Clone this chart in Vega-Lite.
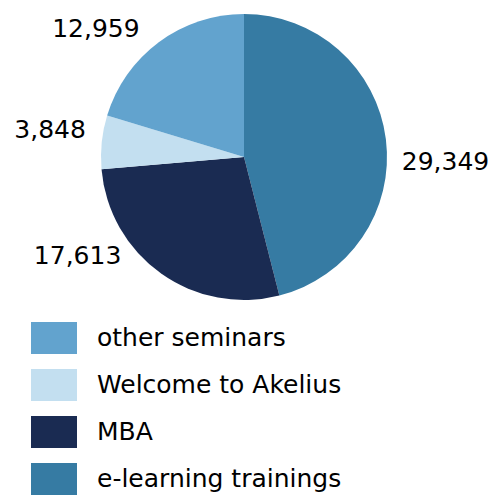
{
  "$schema": "https://vega.github.io/schema/vega-lite/v6.json",
  "width": 488,
  "height": 314,
  "autosize": {"type": "none"},
  "padding": {"left": 0, "top": 0, "right": 8, "bottom": 181},
  "background": "white",
  "config": {"view": {"stroke": null}, "font": "DejaVu Sans"},
  "data": {
    "values": [
      {"category": "e-learning trainings", "value": 29349, "order": 1, "label": "29,349"},
      {"category": "MBA", "value": 17613, "order": 2, "label": "17,613"},
      {"category": "Welcome to Akelius", "value": 3848, "order": 3, "label": "3,848"},
      {"category": "other seminars", "value": 12959, "order": 4, "label": "12,959"}
    ]
  },
  "encoding": {
    "theta": {"field": "value", "type": "quantitative", "stack": true},
    "order": {"field": "order", "type": "quantitative", "sort": "ascending"}
  },
  "layer": [
    {
      "mark": {"type": "arc", "outerRadius": 143},
      "encoding": {
        "color": {
          "field": "category",
          "type": "nominal",
          "scale": {
            "domain": ["other seminars", "Welcome to Akelius", "MBA", "e-learning trainings"],
            "range": ["#62a3ce", "#c3dff0", "#1a2b52", "#367ba3"]
          },
          "legend": {
            "title": null,
            "orient": "none",
            "legendX": 31,
            "legendY": 315,
            "padding": 0,
            "direction": "vertical",
            "symbolType": "M-1,-0.7H1V0.7H-1Z",
            "symbolSize": 2116,
            "symbolStrokeWidth": 0,
            "symbolOpacity": 1,
            "labelFontSize": 25,
            "labelFont": "DejaVu Sans",
            "labelColor": "#000000",
            "labelOffset": 20,
            "labelLimit": 400,
            "rowPadding": 7,
            "labelBaseline": "middle"
          }
        }
      }
    },
    {
      "mark": {"type": "text", "radius": 158, "align": "left", "baseline": "middle", "dx": 1, "dy": 25, "fontSize": 25, "font": "DejaVu Sans", "color": "#000000"},
      "encoding": {
        "text": {"condition": {"test": "datum.category === 'e-learning trainings'", "field": "label"}, "value": ""}
      }
    },
    {
      "mark": {"type": "text", "radius": 160, "align": "right", "baseline": "middle", "dx": -30, "dy": -31, "fontSize": 25, "font": "DejaVu Sans", "color": "#000000"},
      "encoding": {
        "text": {"condition": {"test": "datum.category === 'MBA'", "field": "label"}, "value": ""}
      }
    },
    {
      "mark": {"type": "text", "radius": 160, "align": "right", "baseline": "middle", "dx": 1, "dy": -10, "fontSize": 25, "font": "DejaVu Sans", "color": "#000000"},
      "encoding": {
        "text": {"condition": {"test": "datum.category === 'Welcome to Akelius'", "field": "label"}, "value": ""}
      }
    },
    {
      "mark": {"type": "text", "radius": 160, "align": "right", "baseline": "middle", "dx": -9, "dy": 0, "fontSize": 25, "font": "DejaVu Sans", "color": "#000000"},
      "encoding": {
        "text": {"condition": {"test": "datum.category === 'other seminars'", "field": "label"}, "value": ""}
      }
    }
  ]
}
